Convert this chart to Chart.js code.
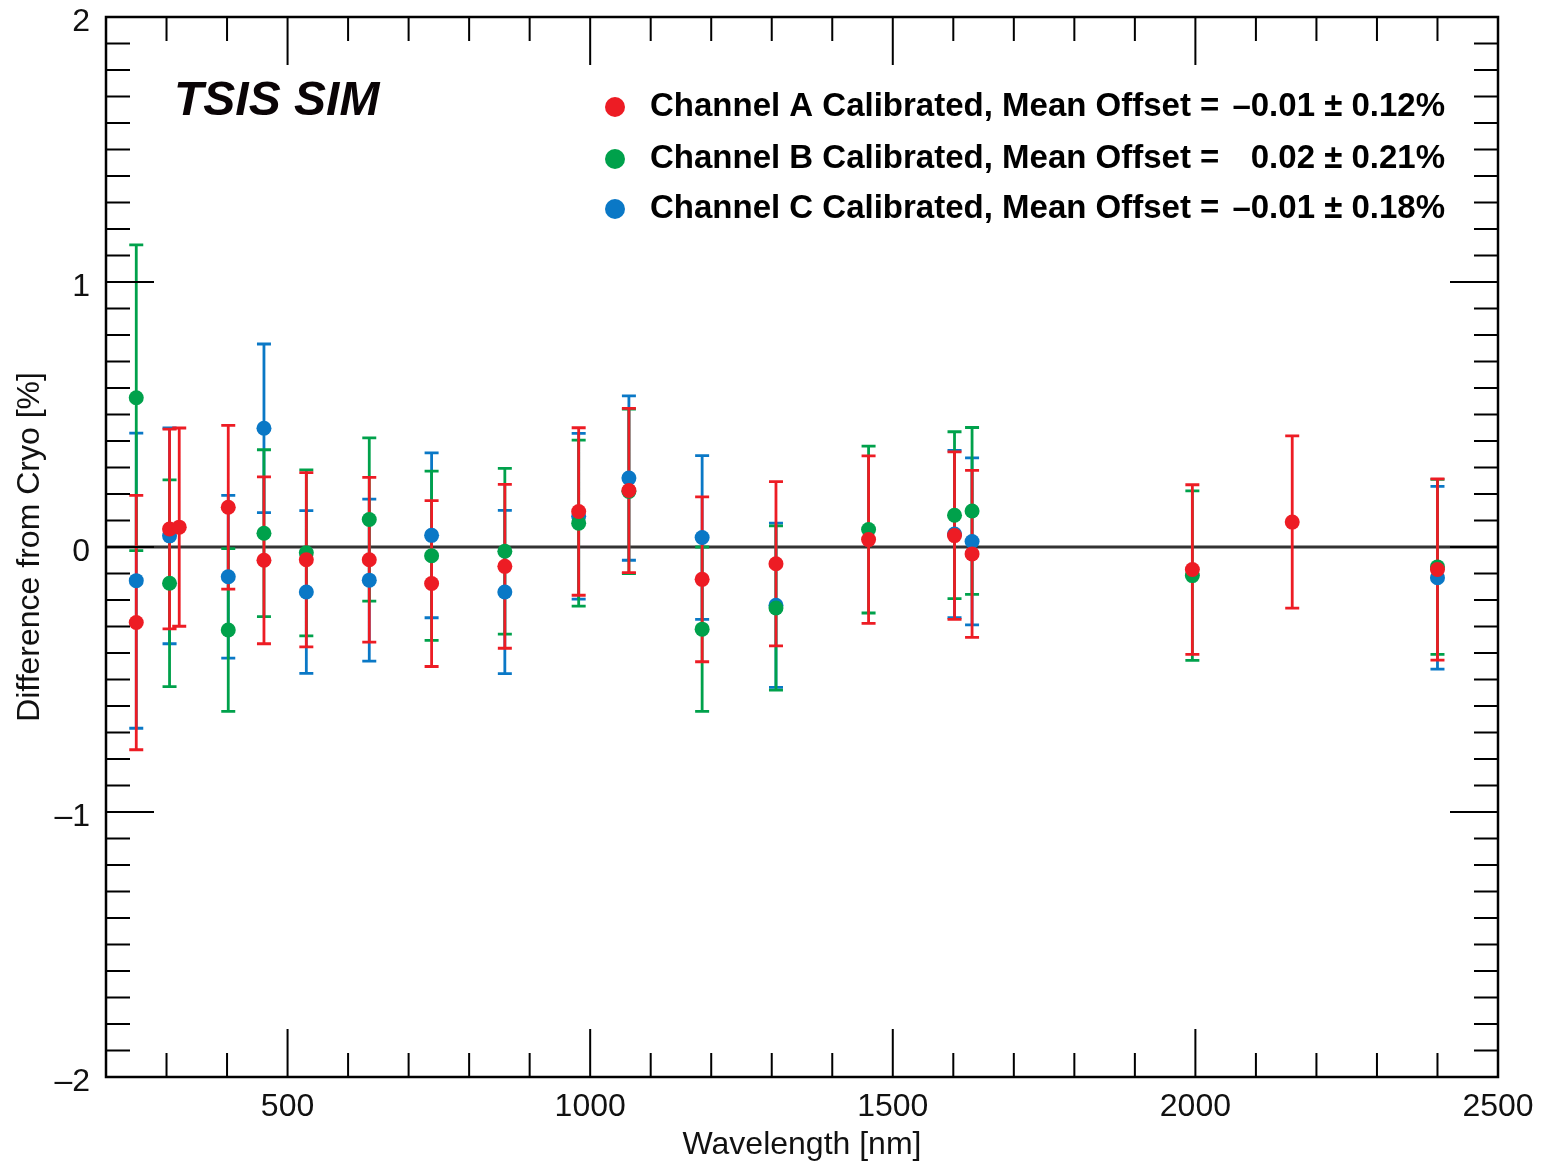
<!DOCTYPE html>
<html><head><meta charset="utf-8">
<script src="https://cdn.jsdelivr.net/npm/chart.js@4.4.0/dist/chart.umd.min.js"></script>
<style>html,body{margin:0;padding:0;background:#fff;}canvas{display:block;}</style>
</head><body>
<canvas id="c" width="1541" height="1164"></canvas>
<script>
// ---- data ----
const wavelengthA = [250, 305, 321, 402, 461, 531, 635, 738, 859, 981, 1064, 1185, 1307, 1460, 1602, 1631, 1995, 2160, 2400];
const offsetA     = [-0.285, 0.068, 0.075, 0.150, -0.050, -0.048, -0.048, -0.138, -0.073, 0.134, 0.213, -0.122, -0.063, 0.028, 0.043, -0.026, -0.085, 0.094, -0.085];
const errorA      = [0.480, 0.377, 0.374, 0.309, 0.315, 0.329, 0.311, 0.313, 0.309, 0.316, 0.310, 0.311, 0.310, 0.316, 0.316, 0.315, 0.320, 0.325, 0.342];

const wavelengthB = [250, 305, 402, 461, 531, 635, 738, 859, 981, 1064, 1185, 1307, 1460, 1602, 1631, 1995, 2400];
const offsetB     = [0.563, -0.137, -0.313, 0.052, -0.022, 0.104, -0.033, -0.016, 0.090, 0.210, -0.310, -0.230, 0.066, 0.120, 0.136, -0.108, -0.075];
const errorB      = [0.577, 0.390, 0.307, 0.315, 0.313, 0.308, 0.319, 0.313, 0.313, 0.310, 0.310, 0.310, 0.315, 0.315, 0.315, 0.320, 0.330];

const wavelengthC = [250, 305, 402, 461, 531, 635, 738, 859, 981, 1064, 1185, 1307, 1602, 1631, 2400];
const offsetC     = [-0.127, 0.042, -0.112, 0.448, -0.170, -0.125, 0.044, -0.170, 0.116, 0.260, 0.036, -0.220, 0.049, 0.021, -0.116];
const errorC      = [0.557, 0.407, 0.307, 0.318, 0.307, 0.306, 0.311, 0.308, 0.313, 0.310, 0.309, 0.310, 0.316, 0.315, 0.345];

const seriesNames   = ['Channel A Calibrated, Mean Offset =', 'Channel B Calibrated, Mean Offset =', 'Channel C Calibrated, Mean Offset ='];
const seriesOffsets = ['\u20130.01 \u00b1 0.12%', '0.02 \u00b1 0.21%', '\u20130.01 \u00b1 0.18%'];
const seriesColors  = ['#ED1C24', '#00A14B', '#0A78C6'];
const panelTitle = 'TSIS SIM';
const xTitle = 'Wavelength [nm]';
const yTitle = 'Difference from Cryo [%]';
const xRange = [200, 2500];
const yRange = [-2, 2];

const FONT = "'Liberation Sans', Arial, Helvetica, sans-serif";

function pts(xs, ys){ return xs.map((x,i)=>({x:x, y:ys[i]})); }
const errors = [errorA, errorB, errorC];

const datasets = [
  {label: seriesNames[0], data: pts(wavelengthA, offsetA)},
  {label: seriesNames[1], data: pts(wavelengthB, offsetB)},
  {label: seriesNames[2], data: pts(wavelengthC, offsetC)}
].map((d,i)=>Object.assign(d,{
  backgroundColor: seriesColors[i], borderColor: seriesColors[i],
  pointRadius: 7.5, pointBorderWidth: 0, pointHoverRadius: 7.5, showLine:false
}));

const errorBars = {
  id:'errorBars',
  beforeDatasetsDraw(chart){
    const {ctx, chartArea:a, scales:{x,y}} = chart;
    ctx.save();
    const y0 = y.getPixelForValue(0);
    ctx.strokeStyle = '#333'; ctx.lineWidth = 3;
    ctx.beginPath(); ctx.moveTo(a.left, y0); ctx.lineTo(a.right, y0); ctx.stroke();
    for (let i = datasets.length-1; i >= 0; i--){
      const ds = chart.data.datasets[i];
      ctx.strokeStyle = seriesColors[i]; ctx.lineWidth = 2.8;
      ctx.beginPath();
      ds.data.forEach((p,j)=>{
        const e = errors[i][j];
        const px = x.getPixelForValue(p.x);
        const pt = y.getPixelForValue(p.y + e);
        const pb = y.getPixelForValue(p.y - e);
        ctx.moveTo(px, pt); ctx.lineTo(px, pb);
        ctx.moveTo(px-7, pt); ctx.lineTo(px+7, pt);
        ctx.moveTo(px-7, pb); ctx.lineTo(px+7, pb);
      });
      ctx.stroke();
    }
    ctx.restore();
  }
};

const frameTicks = {
  id:'frameTicks',
  afterDatasetsDraw(chart){
    const {ctx, chartArea:a, scales:{x,y}} = chart;
    ctx.save();
    ctx.strokeStyle = '#000'; ctx.lineWidth = 2;
    ctx.beginPath();
    x.ticks.forEach(t=>{
      const px = x.getPixelForValue(t.value);
      const len = (t.value % 500 === 0) ? 48 : 24;
      ctx.moveTo(px, a.bottom); ctx.lineTo(px, a.bottom-len);
      ctx.moveTo(px, a.top); ctx.lineTo(px, a.top+len);
    });
    y.ticks.forEach(t=>{
      const py = y.getPixelForValue(t.value);
      const major = Math.abs(t.value - Math.round(t.value)) < 1e-6;
      const len = major ? 48 : 24;
      ctx.moveTo(a.left, py); ctx.lineTo(a.left+len, py);
      ctx.moveTo(a.right, py); ctx.lineTo(a.right-len, py);
    });
    ctx.stroke();
    ctx.lineWidth = 2.5;
    ctx.strokeRect(a.left, a.top, a.right-a.left, a.bottom-a.top);
    ctx.restore();
  }
};

const legendPanel = {
  id:'legendPanel',
  afterDraw(chart){
    const {ctx, chartArea:a} = chart;
    ctx.save();
    ctx.fillStyle = '#0a0406';
    ctx.font = "italic bold 48px " + FONT;
    ctx.textBaseline = 'middle'; ctx.textAlign = 'left';
    ctx.fillText(panelTitle, a.left + 68, a.top + 85);
    const rowY = [a.top + 90, a.top + 142, a.top + 192];
    chart.data.datasets.forEach((ds,i)=>{
      ctx.fillStyle = seriesColors[i];
      ctx.beginPath(); ctx.arc(a.left + 509, rowY[i], 10, 0, Math.PI*2); ctx.fill();
      ctx.fillStyle = '#000';
      ctx.font = "bold 33px " + FONT;
      ctx.textAlign = 'left';
      ctx.fillText(ds.label, a.left + 544, rowY[i]);
      ctx.textAlign = 'right';
      ctx.fillText(seriesOffsets[i], a.left + 1339, rowY[i]);
    });
    ctx.restore();
  }
};

function zeroPad(s){ s.paddingTop = 0; s.paddingBottom = 0; s.paddingLeft = 0; s.paddingRight = 0; }

new Chart(document.getElementById('c'), {
  type:'scatter',
  data:{datasets},
  options:{
    responsive:false, animation:false,
    layout:{padding:{top:17, right:43, bottom:0, left:0}},
    plugins:{legend:{display:false}, tooltip:{enabled:false}},
    scales:{
      x:{
        type:'linear', min:xRange[0], max:xRange[1],
        grid:{display:false, drawTicks:false}, border:{display:false},
        afterBuildTicks(s){ const t=[]; for(let v=xRange[0]; v<=xRange[1]; v+=100) t.push({value:v}); s.ticks=t; },
        afterFit(s){ s.height = 87; zeroPad(s); },
        ticks:{autoSkip:false, maxRotation:0, padding:14, color:'#111',
          font:{family:FONT, size:32, lineHeight:1},
          callback:(v)=> (v % 500 === 0 ? String(v) : '')},
        title:{display:true, text:xTitle, color:'#111', font:{family:FONT, size:32, lineHeight:1.2}, padding:{top:0, bottom:0}}
      },
      y:{
        type:'linear', min:yRange[0], max:yRange[1],
        grid:{display:false, drawTicks:false}, border:{display:false},
        afterBuildTicks(s){ const t=[]; for(let k=yRange[0]*10; k<=yRange[1]*10; k++) t.push({value:k/10}); s.ticks=t; },
        afterFit(s){ s.width = 106; zeroPad(s); },
        ticks:{autoSkip:false, padding:16, color:'#111', labelOffset:5,
          font:{family:FONT, size:32, lineHeight:1},
          callback:(v)=>{ const r=Math.round(v); if (Math.abs(v-r)>1e-6) return ''; return r<0 ? '\u2013'+Math.abs(r) : String(r); }},
        title:{display:true, text:yTitle, color:'#111', font:{family:FONT, size:32, lineHeight:1.2}, padding:{top:11, bottom:0}}
      }
    }
  },
  plugins:[errorBars, frameTicks, legendPanel]
});
</script>
</body></html>
